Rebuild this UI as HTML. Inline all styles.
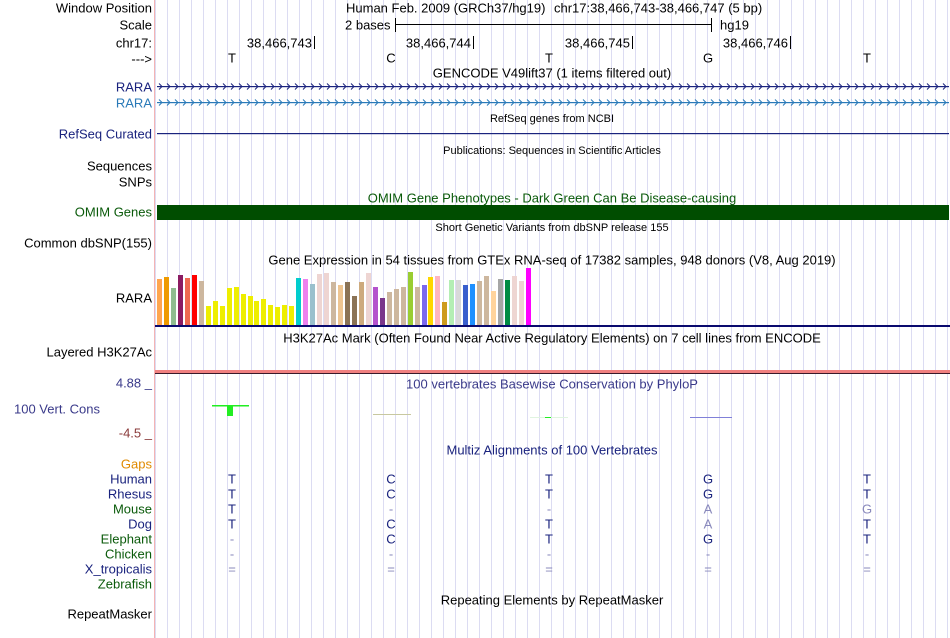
<!DOCTYPE html>
<html><head><meta charset="utf-8"><style>
html,body{margin:0;padding:0;background:#fff;}
svg{display:block;font-family:"Liberation Sans",sans-serif;font-size:13px;}
</style></head><body>
<svg width="950" height="638" viewBox="0 0 950 638" xmlns="http://www.w3.org/2000/svg">
<defs>
<pattern id="grid" x="155" y="0" width="12" height="638" patternUnits="userSpaceOnUse">
<rect x="0" y="0" width="1" height="638" fill="#dcdcf2"/>
</pattern>
<pattern id="chev1" x="157" y="82" width="8" height="10" patternUnits="userSpaceOnUse">
<path d="M2,1.5 L5,4.5 L2,7.5" fill="none" stroke="#1a237e" stroke-width="1"/>
</pattern>
<pattern id="chev2" x="157" y="98" width="8" height="10" patternUnits="userSpaceOnUse">
<path d="M2,1.5 L5,4.5 L2,7.5" fill="none" stroke="#2a7ab8" stroke-width="1"/>
</pattern>
</defs>
<rect x="155" y="0" width="795" height="638" fill="url(#grid)"/>
<rect x="154" y="0" width="1" height="638" fill="#f4b4b4"/>

<g text-anchor="end" dominant-baseline="central">
<text x="152" y="8">Window Position</text>
<text x="152" y="25">Scale</text>
<text x="152" y="43">chr17:</text>
<text x="152" y="59">---&gt;</text>
<text x="152" y="87" fill="#1a237e">RARA</text>
<text x="152" y="103" fill="#2a7ab8">RARA</text>
<text x="152" y="134" fill="#1a237e">RefSeq Curated</text>
<text x="152" y="166">Sequences</text>
<text x="152" y="182">SNPs</text>
<text x="152" y="212" fill="#0a5a0a">OMIM Genes</text>
<text x="152" y="243">Common dbSNP(155)</text>
<text x="152" y="298">RARA</text>
<text x="152" y="352">Layered H3K27Ac</text>
<text x="152" y="383" fill="#3a3a8a">4.88 _</text>
<text x="100" y="409" fill="#3a3a8a">100 Vert. Cons</text>
<text x="152" y="433" fill="#8a3a3a">-4.5 _</text>
<text x="152" y="464" fill="#e08a00">Gaps</text>
<text x="152" y="479" fill="#1a237e">Human</text>
<text x="152" y="494" fill="#1a237e">Rhesus</text>
<text x="152" y="509" fill="#0a5a0a">Mouse</text>
<text x="152" y="524" fill="#1a237e">Dog</text>
<text x="152" y="539" fill="#0a5a0a">Elephant</text>
<text x="152" y="554" fill="#0a5a0a">Chicken</text>
<text x="152" y="569" fill="#1a237e">X_tropicalis</text>
<text x="152" y="584" fill="#0a5a0a">Zebrafish</text>
<text x="152" y="614">RepeatMasker</text>
</g>

<g dominant-baseline="central">
<text x="346" y="8">Human Feb. 2009 (GRCh37/hg19)</text>
<text x="554" y="8">chr17:38,466,743-38,466,747 (5 bp)</text>
<text x="345" y="25">2 bases</text>
<text x="720" y="25">hg19</text>
</g>
<rect x="395" y="24" width="316" height="1" fill="#000"/>
<rect x="395" y="18" width="1" height="14" fill="#000"/>
<rect x="711" y="18" width="1" height="14" fill="#000"/>

<g text-anchor="end" dominant-baseline="central">
<text x="312" y="43">38,466,743</text>
<text x="471" y="43">38,466,744</text>
<text x="630" y="43">38,466,745</text>
<text x="788" y="43">38,466,746</text>
</g>
<rect x="314" y="36" width="1" height="13" fill="#000"/>
<rect x="473" y="36" width="1" height="13" fill="#000"/>
<rect x="632" y="36" width="1" height="13" fill="#000"/>
<rect x="790" y="36" width="1" height="13" fill="#000"/>
<g text-anchor="middle" dominant-baseline="central">
<text x="232" y="58">T</text><text x="391" y="58">C</text><text x="549" y="58">T</text><text x="708" y="58">G</text><text x="867" y="58">T</text>
</g>

<text x="552" y="73" text-anchor="middle" dominant-baseline="central">GENCODE V49lift37 (1 items filtered out)</text>
<rect x="157" y="86" width="792" height="1.2" fill="#1a237e"/>
<rect x="157" y="82" width="792" height="10" fill="url(#chev1)"/>
<rect x="157" y="102" width="792" height="1.2" fill="#2a7ab8"/>
<rect x="157" y="98" width="792" height="10" fill="url(#chev2)"/>

<text x="552" y="119" text-anchor="middle" dominant-baseline="central" font-size="11">RefSeq genes from NCBI</text>
<rect x="157" y="133" width="792" height="1.2" fill="#1a237e"/>
<text x="552" y="151" text-anchor="middle" dominant-baseline="central" font-size="11">Publications: Sequences in Scientific Articles</text>
<text x="552" y="198" text-anchor="middle" dominant-baseline="central" fill="#0a5a0a">OMIM Gene Phenotypes - Dark Green Can Be Disease-causing</text>
<rect x="157" y="205" width="792" height="15" fill="#004d00"/>
<text x="552" y="228" text-anchor="middle" dominant-baseline="central" font-size="11">Short Genetic Variants from dbSNP release 155</text>
<text x="552" y="260" text-anchor="middle" dominant-baseline="central">Gene Expression in 54 tissues from GTEx RNA-seq of 17382 samples, 948 donors (V8, Aug 2019)</text>

<g>
<rect x="157" y="279" width="5" height="46" fill="#FFA54F"/>
<rect x="164" y="277" width="5" height="48" fill="#EE9A00"/>
<rect x="171" y="288" width="5" height="37" fill="#8FBC8F"/>
<rect x="178" y="275" width="5" height="50" fill="#8B1C62"/>
<rect x="185" y="278" width="5" height="47" fill="#EE6A50"/>
<rect x="192" y="275" width="5" height="50" fill="#FF0000"/>
<rect x="199" y="281" width="5" height="44" fill="#CDB79E"/>
<rect x="206" y="306" width="5" height="19" fill="#EEEE00"/>
<rect x="213" y="301" width="5" height="24" fill="#EEEE00"/>
<rect x="220" y="306" width="5" height="19" fill="#EEEE00"/>
<rect x="227" y="288" width="5" height="37" fill="#EEEE00"/>
<rect x="234" y="287" width="5" height="38" fill="#EEEE00"/>
<rect x="241" y="294" width="5" height="31" fill="#EEEE00"/>
<rect x="248" y="296" width="5" height="29" fill="#EEEE00"/>
<rect x="254" y="301" width="5" height="24" fill="#EEEE00"/>
<rect x="261" y="299" width="5" height="26" fill="#EEEE00"/>
<rect x="268" y="305" width="5" height="20" fill="#EEEE00"/>
<rect x="275" y="307" width="5" height="18" fill="#EEEE00"/>
<rect x="282" y="305" width="5" height="20" fill="#EEEE00"/>
<rect x="289" y="306" width="5" height="19" fill="#EEEE00"/>
<rect x="296" y="278" width="5" height="47" fill="#00CDCD"/>
<rect x="303" y="279" width="5" height="46" fill="#EE82EE"/>
<rect x="310" y="284" width="5" height="41" fill="#9AC0CD"/>
<rect x="317" y="274" width="5" height="51" fill="#EED5D2"/>
<rect x="324" y="273" width="5" height="52" fill="#EED5D2"/>
<rect x="331" y="282" width="5" height="43" fill="#CDB79E"/>
<rect x="338" y="285" width="5" height="40" fill="#EEC591"/>
<rect x="345" y="282" width="5" height="43" fill="#8B7355"/>
<rect x="352" y="296" width="5" height="29" fill="#8B7355"/>
<rect x="359" y="282" width="5" height="43" fill="#CDAA7D"/>
<rect x="366" y="273" width="5" height="52" fill="#EED5D2"/>
<rect x="373" y="287" width="5" height="38" fill="#B452CD"/>
<rect x="380" y="298" width="5" height="27" fill="#7A378B"/>
<rect x="387" y="292" width="5" height="33" fill="#CDB79E"/>
<rect x="394" y="289" width="5" height="36" fill="#CDB79E"/>
<rect x="401" y="287" width="5" height="38" fill="#CDB79E"/>
<rect x="408" y="272" width="5" height="53" fill="#9ACD32"/>
<rect x="415" y="287" width="5" height="38" fill="#CDB79E"/>
<rect x="422" y="285" width="5" height="40" fill="#7B68EE"/>
<rect x="428" y="277" width="5" height="48" fill="#FFD700"/>
<rect x="435" y="276" width="5" height="49" fill="#FFB6C1"/>
<rect x="442" y="302" width="5" height="23" fill="#CD9B1D"/>
<rect x="449" y="280" width="5" height="45" fill="#B4EEB4"/>
<rect x="456" y="280" width="5" height="45" fill="#D9D9D9"/>
<rect x="463" y="285" width="5" height="40" fill="#3A5FCD"/>
<rect x="470" y="284" width="5" height="41" fill="#1E90FF"/>
<rect x="477" y="281" width="5" height="44" fill="#CDB79E"/>
<rect x="484" y="276" width="5" height="49" fill="#CDB79E"/>
<rect x="491" y="291" width="5" height="34" fill="#FFD39B"/>
<rect x="498" y="279" width="5" height="46" fill="#A6A6A6"/>
<rect x="505" y="280" width="5" height="45" fill="#008B45"/>
<rect x="512" y="276" width="5" height="49" fill="#EED5D2"/>
<rect x="519" y="281" width="5" height="44" fill="#EED5D2"/>
<rect x="526" y="268" width="5" height="57" fill="#FF00FF"/>
</g>
<rect x="155" y="325" width="795" height="2" fill="#0a0a6e"/>

<text x="552" y="338" text-anchor="middle" dominant-baseline="central">H3K27Ac Mark (Often Found Near Active Regulatory Elements) on 7 cell lines from ENCODE</text>
<rect x="155" y="370" width="795" height="3" fill="#f08080"/>
<rect x="155" y="373" width="795" height="1" fill="#3a1a2a"/>

<text x="552" y="384" text-anchor="middle" dominant-baseline="central" fill="#3a3a8a">100 vertebrates Basewise Conservation by PhyloP</text>
<rect x="212" y="405" width="37" height="1.5" fill="#22ee22"/>
<rect x="227" y="405" width="6" height="11" fill="#22ee22"/>
<rect x="373" y="414" width="38" height="1" fill="#c8c8a0"/>
<rect x="530" y="417" width="38" height="1" fill="#e0f4e0"/>
<rect x="545" y="417" width="6" height="1" fill="#22ee22"/>
<rect x="690" y="417" width="42" height="1" fill="#8080d8"/>

<text x="552" y="450" text-anchor="middle" dominant-baseline="central" fill="#1a237e">Multiz Alignments of 100 Vertebrates</text>
<g text-anchor="middle" dominant-baseline="central" fill="#1a237e">
<text x="232" y="479">T</text><text x="391" y="479">C</text><text x="549" y="479">T</text><text x="708" y="479">G</text><text x="867" y="479">T</text>
<text x="232" y="494">T</text><text x="391" y="494">C</text><text x="549" y="494">T</text><text x="708" y="494">G</text><text x="867" y="494">T</text>
<text x="232" y="509">T</text><text x="391" y="509" fill="#8888bb">-</text><text x="549" y="509" fill="#8888bb">-</text><text x="708" y="509" fill="#8888bb">A</text><text x="867" y="509" fill="#8888bb">G</text>
<text x="232" y="524">T</text><text x="391" y="524">C</text><text x="549" y="524">T</text><text x="708" y="524" fill="#8888bb">A</text><text x="867" y="524">T</text>
<text x="232" y="539" fill="#8888bb">-</text><text x="391" y="539">C</text><text x="549" y="539">T</text><text x="708" y="539">G</text><text x="867" y="539">T</text>
<g fill="#8888bb">
<text x="232" y="554">-</text><text x="391" y="554">-</text><text x="549" y="554">-</text><text x="708" y="554">-</text><text x="867" y="554">-</text>
<text x="232" y="569">=</text><text x="391" y="569">=</text><text x="549" y="569">=</text><text x="708" y="569">=</text><text x="867" y="569">=</text>
</g>
</g>
<text x="552" y="600" text-anchor="middle" dominant-baseline="central">Repeating Elements by RepeatMasker</text>
</svg>
</body></html>
